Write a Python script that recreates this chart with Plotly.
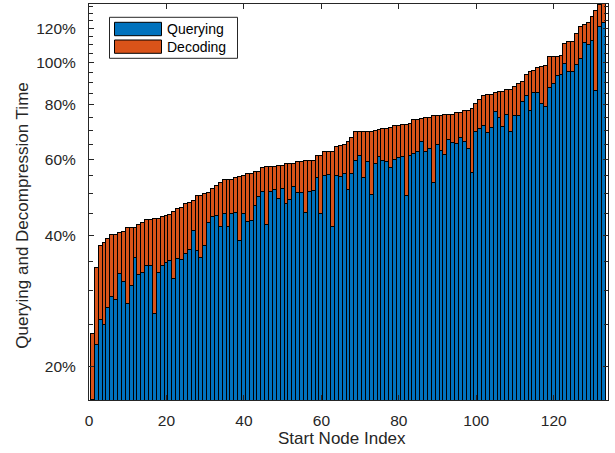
import math
import plotly.graph_objects as go

# ---------------- data ----------------
node_index = list(range(1, 134))

querying = [
    0.168, 0.224, 0.256, 0.250, 0.273, 0.289, 0.284, 0.326, 0.313, 0.279,
    0.307, 0.355, 0.325, 0.329, 0.341, 0.341, 0.265, 0.328, 0.341, 0.346,
    0.350, 0.318, 0.353, 0.352, 0.364, 0.371, 0.411, 0.370, 0.356, 0.379,
    0.428, 0.442, 0.445, 0.419, 0.448, 0.419, 0.448, 0.452, 0.390, 0.450,
    0.431, 0.433, 0.469, 0.491, 0.504, 0.423, 0.504, 0.510, 0.485, 0.512,
    0.473, 0.483, 0.518, 0.502, 0.502, 0.451, 0.504, 0.507, 0.542, 0.448,
    0.549, 0.552, 0.420, 0.549, 0.547, 0.555, 0.511, 0.555, 0.595, 0.612,
    0.542, 0.591, 0.497, 0.584, 0.606, 0.596, 0.593, 0.573, 0.598, 0.603,
    0.607, 0.494, 0.609, 0.617, 0.625, 0.658, 0.623, 0.635, 0.530, 0.647,
    0.628, 0.613, 0.666, 0.654, 0.649, 0.670, 0.659, 0.633, 0.557, 0.692,
    0.704, 0.716, 0.689, 0.708, 0.769, 0.745, 0.713, 0.758, 0.693, 0.753,
    0.756, 0.812, 0.838, 0.776, 0.852, 0.852, 0.804, 0.793, 0.876, 0.893,
    0.932, 0.937, 0.996, 0.955, 0.955, 0.989, 1.022, 1.110, 1.102, 1.120,
    0.861, 1.208, 1.237,
]

decoding = [
    0.070, 0.113, 0.123, 0.135, 0.121, 0.112, 0.118, 0.080, 0.096, 0.137,
    0.109, 0.063, 0.098, 0.100, 0.095, 0.095, 0.173, 0.110, 0.100, 0.098,
    0.096, 0.136, 0.109, 0.111, 0.110, 0.105, 0.071, 0.124, 0.139, 0.120,
    0.075, 0.070, 0.076, 0.109, 0.089, 0.119, 0.091, 0.090, 0.156, 0.098,
    0.123, 0.122, 0.092, 0.070, 0.069, 0.153, 0.072, 0.066, 0.094, 0.067,
    0.111, 0.102, 0.068, 0.088, 0.090, 0.144, 0.092, 0.089, 0.068, 0.164,
    0.074, 0.071, 0.204, 0.093, 0.098, 0.093, 0.146, 0.116, 0.098, 0.081,
    0.151, 0.102, 0.198, 0.113, 0.095, 0.108, 0.113, 0.137, 0.117, 0.114,
    0.114, 0.227, 0.116, 0.120, 0.115, 0.086, 0.123, 0.112, 0.224, 0.107,
    0.127, 0.145, 0.093, 0.105, 0.116, 0.098, 0.116, 0.143, 0.226, 0.113,
    0.118, 0.122, 0.154, 0.137, 0.084, 0.111, 0.143, 0.106, 0.173, 0.129,
    0.136, 0.091, 0.102, 0.179, 0.107, 0.120, 0.174, 0.188, 0.158, 0.141,
    0.102, 0.101, 0.108, 0.161, 0.161, 0.175, 0.186, 0.115, 0.132, 0.154,
    0.456, 0.149, 0.129,
]

series_names = ["Querying", "Decoding"]
series_colors = ["#0072BD", "#D95319"]

x_tick_values = [0, 20, 40, 60, 80, 100, 120]
y_tick_values = [0.2, 0.4, 0.6, 0.8, 1.0, 1.2]
y_tick_labels = ["20%", "40%", "60%", "80%", "100%", "120%"]
y_minor_values = [0.25, 0.3, 0.35, 0.45, 0.5, 0.55, 0.65, 0.7, 0.75,
                  0.85, 0.9, 0.95, 1.05, 1.1, 1.15, 1.25, 1.3, 1.35]

x_title = "Start Node Index"
y_title = "Querying and Decompression Time"

x_limits = [0, 134]
y_limits = [0.1676, 1.366]

# ---------------- figure ----------------
AX = "#262626"
FONT = "Liberation Sans, Arial, Helvetica, sans-serif"

fig = go.Figure()
for name, vals, col in zip(series_names, [querying, decoding], series_colors):
    fig.add_bar(
        x=node_index, y=vals, name=name,
        marker=dict(color=col, line=dict(color="black", width=1)),
        showlegend=False,
    )

W, H = 615, 453
L, R, T, B = 89, 7, 4, 53
pw, ph = W - L - R, H - T - B


def px(x):
    return (x - L) / pw


def py(y):
    return (H - B - y) / ph


fig.update_layout(
    width=W, height=H,
    margin=dict(l=L, r=R, t=T, b=B, autoexpand=False),
    paper_bgcolor="white", plot_bgcolor="white",
    barmode="stack", bargap=0,
    font=dict(family=FONT, color=AX),
    xaxis=dict(
        range=x_limits, tickmode="array", tickvals=x_tick_values,
        ticks="inside", ticklen=5, tickcolor=AX, tickwidth=1,
        showline=True, linecolor=AX, linewidth=1, mirror="ticks",
        showgrid=False, zeroline=False, ticklabelstandoff=6,
        tickfont=dict(size=15.5, color=AX, family=FONT),
    ),
    yaxis=dict(
        type="log",
        range=[math.log10(y_limits[0]), math.log10(y_limits[1])],
        tickmode="array", tickvals=y_tick_values, ticktext=y_tick_labels,
        ticks="inside", ticklen=5, tickcolor=AX, tickwidth=1,
        minor=dict(tickmode="array", tickvals=y_minor_values, ticks="inside",
                   ticklen=4, tickcolor=AX, tickwidth=1, showgrid=False),
        showline=True, linecolor=AX, linewidth=1, mirror="ticks",
        showgrid=False, zeroline=False, ticklabelstandoff=9,
        tickfont=dict(size=15.5, color=AX, family=FONT),
    ),
)

# axis titles
fig.add_annotation(text=x_title, xref="paper", yref="paper",
                   x=px(342), y=py(438), xanchor="center", yanchor="middle",
                   showarrow=False, font=dict(size=17, color=AX, family=FONT))
fig.add_annotation(text=y_title, xref="paper", yref="paper",
                   x=px(21.7), y=py(216), xanchor="center", yanchor="middle",
                   textangle=-90, showarrow=False,
                   font=dict(size=17, color=AX, family=FONT))

# legend (MATLAB style box with wide swatches)
fig.add_shape(type="rect", xref="paper", yref="paper",
              x0=px(109.5), x1=px(237.5), y0=py(58.3), y1=py(17.3),
              line=dict(color=AX, width=1), fillcolor="white")
swatch_rows = [(22.3, 35.7), (40.0, 53.3)]
for (ya, yb), name, col in zip(swatch_rows, series_names, series_colors):
    fig.add_shape(type="rect", xref="paper", yref="paper",
                  x0=px(114.5), x1=px(161.5), y0=py(yb), y1=py(ya),
                  line=dict(color="black", width=1), fillcolor=col)
    fig.add_annotation(text=name, xref="paper", yref="paper",
                       x=px(165), y=py((ya + yb) / 2), xanchor="left",
                       yanchor="middle", showarrow=False,
                       font=dict(size=14, color="black", family=FONT))

fig.write_html("out.html",
               config={"displayModeBar": False},
               post_script="document.body.style.margin='0';"
                           "document.body.style.overflow='hidden';")
